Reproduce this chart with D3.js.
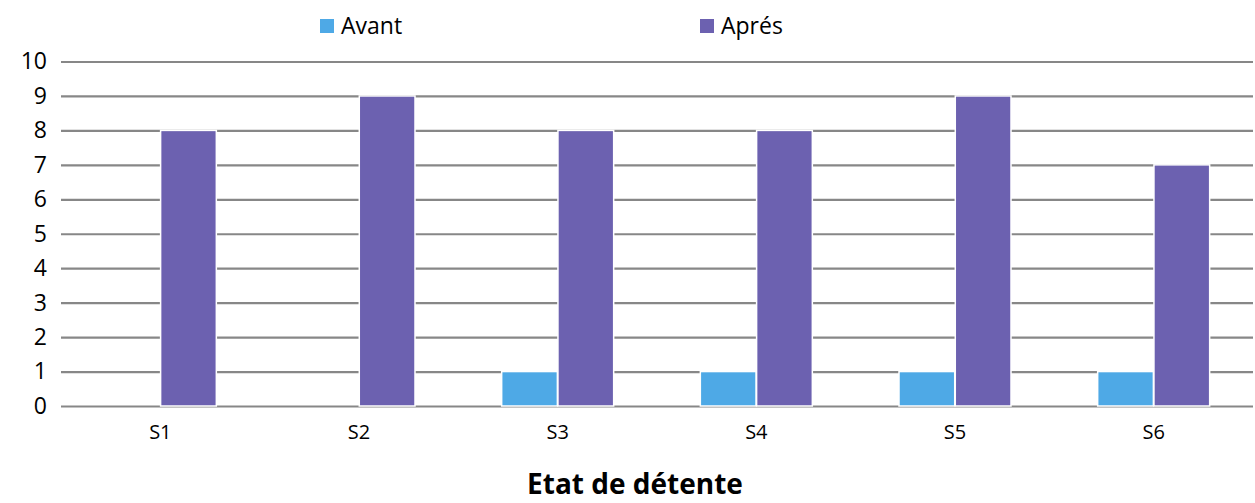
<!DOCTYPE html>
<html>
<head>
<meta charset="utf-8">
<script src="https://cdn.jsdelivr.net/npm/d3@7"></script>
<style>
  html, body { margin: 0; padding: 0; background: #fff; }
  svg { display: block; font-family: "Open Sans", "Noto Sans", sans-serif; }
</style>
</head>
<body>
<svg id="chart" width="1255" height="503"></svg>
<script>
// Séances et scores avant / après
const categories = ["S1", "S2", "S3", "S4", "S5", "S6"];
const avant = [0, 0, 1, 1, 1, 1];
const apres = [8, 9, 8, 8, 9, 7];
const seriesNames = ["Avant", "Aprés"];
const seriesColors = ["#4EA9E6", "#6C61B0"];
const yTicks = [0, 1, 2, 3, 4, 5, 6, 7, 8, 9, 10];
const xTitle = "Etat de détente";

const W = 1255, H = 503;
const margin = { left: 61, right: 2, top: 61.5, bottom: 97 };
const svg = d3.select("#chart");

const x = d3.scaleBand().domain(categories)
  .range([margin.left, W - margin.right]).paddingInner(0).paddingOuter(0);
const xs = d3.scaleBand().domain(seriesNames)
  .range([0, x.bandwidth()]).paddingInner(0.01).paddingOuter(0.77);
const y = d3.scaleLinear().domain([0, 10]).range([H - margin.bottom, margin.top]);

// horizontal gridlines
svg.append("g")
  .attr("transform", `translate(${margin.left},0)`)
  .call(d3.axisLeft(y).tickValues(yTicks).tickSize(-(W - margin.left - margin.right)).tickFormat(""))
  .call(g => g.select(".domain").remove())
  .call(g => g.selectAll("line").attr("stroke", "#878787").attr("stroke-width", 2.2));

// y tick labels
svg.append("g")
  .attr("transform", `translate(${margin.left},0)`)
  .call(d3.axisLeft(y).tickValues(yTicks).tickSize(0).tickPadding(14).tickFormat(d3.format("d")))
  .call(g => g.select(".domain").remove())
  .call(g => g.selectAll("text").attr("font-size", 23).attr("fill", "#000")
    .attr("font-family", "'Open Sans', 'Noto Sans', sans-serif"));

// bars
const rows = categories.map((c, i) => ({ c, vals: [avant[i], apres[i]] }));
const groups = svg.append("g").selectAll("g").data(rows).join("g")
  .attr("transform", d => `translate(${x(d.c)},0)`);
groups.selectAll("rect")
  .data(d => d.vals.map((v, j) => ({ v, s: seriesNames[j], j })))
  .join("rect")
  .filter(d => d.v > 0)
  .attr("x", d => xs(d.s))
  .attr("width", xs.bandwidth())
  .attr("y", d => y(d.v))
  .attr("height", d => y(0) - y(d.v))
  .attr("fill", d => seriesColors[d.j])
  .attr("stroke", "#fff")
  .attr("stroke-width", 1.5);

// category labels
svg.append("g")
  .attr("transform", `translate(0,${y(0)})`)
  .call(d3.axisBottom(x).tickSize(0).tickPadding(19))
  .call(g => g.select(".domain").remove())
  .call(g => g.selectAll("text").attr("font-size", 20).attr("fill", "#000")
    .attr("font-family", "'Open Sans', 'Noto Sans', sans-serif"));

// x axis title
svg.append("text")
  .attr("x", 635)
  .attr("y", 494)
  .attr("text-anchor", "middle")
  .attr("font-size", 28)
  .attr("font-weight", "bold")
  .attr("fill", "#000")
  .text(xTitle);

// legend
const legendX = [320, 700];
const legend = svg.append("g").selectAll("g").data(seriesNames).join("g")
  .attr("transform", (d, i) => `translate(${legendX[i]},19)`);
legend.append("rect").attr("width", 14).attr("height", 14)
  .attr("fill", (d, i) => seriesColors[i]);
legend.append("text").attr("x", 21).attr("y", 14.5)
  .attr("font-size", 23).attr("fill", "#000").text(d => d);
</script>
</body>
</html>
